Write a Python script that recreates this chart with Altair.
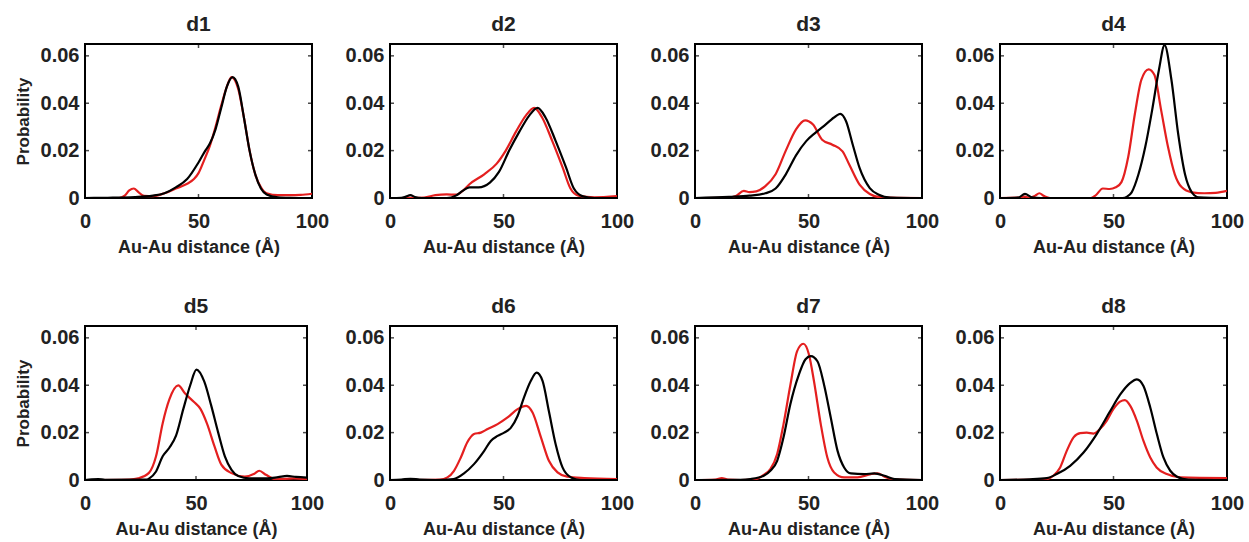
import altair as alt
import pandas as pd

RED = "#e41f1f"
BLACK = "#000000"
TEXT = "#222222"
FONT = "Liberation Sans"

X_TICKS = [0, 50, 100]
Y_TICKS = [0, 0.02, 0.04, 0.06]
X_MAX = 100
Y_MAX = 0.065
X_TITLE = "Au-Au distance (Å)"
Y_TITLE = "Probability"
PANELS = ["d1", "d2", "d3", "d4", "d5", "d6", "d7", "d8"]

d1_black = [(0, 0), (10, 0.0001), (20, 0.0003), (25, 0.0006), (30, 0.001), (35, 0.002), (40, 0.0045), (45, 0.008), (50, 0.015), (53, 0.02), (55, 0.023), (57.5, 0.029), (60, 0.038), (62.5, 0.047), (65, 0.051), (67.5, 0.047), (70, 0.034), (72.5, 0.02), (75, 0.01), (77.5, 0.004), (80, 0.0015), (85, 0.0003), (90, 0.0001), (100, 0)]
d1_red = [(0, 0), (15, 0), (17.5, 0.001), (19.5, 0.0032), (21.5, 0.004), (23.5, 0.0025), (26, 0.0009), (30, 0.0008), (35, 0.002), (40, 0.004), (45, 0.006), (48, 0.008), (50, 0.0105), (52.5, 0.016), (55, 0.022), (57.5, 0.030), (60, 0.039), (62.5, 0.047), (64.5, 0.051), (67.5, 0.046), (70, 0.034), (72.5, 0.02), (75, 0.01), (77.5, 0.0045), (80, 0.002), (85, 0.0012), (90, 0.0012), (95, 0.0013), (100, 0.0018)]

d2_black = [(0, 0), (5, 0.0001), (7, 0.0006), (9, 0.0012), (11, 0.0004), (14, 0), (25, 0), (29, 0.001), (32, 0.003), (35, 0.0045), (39, 0.0045), (44, 0.0065), (48, 0.011), (52.5, 0.02), (57, 0.028), (61.5, 0.035), (65, 0.038), (68.5, 0.034), (73, 0.024), (77.5, 0.013), (81, 0.004), (85, 0.0007), (90, 0), (100, 0)]
d2_red = [(0, 0), (15, 0.0002), (20, 0.0012), (25, 0.0015), (29, 0.0014), (32, 0.003), (35, 0.0058), (41.5, 0.01), (47, 0.0145), (51, 0.02), (55.5, 0.028), (60, 0.035), (63.5, 0.038), (67, 0.034), (71.5, 0.024), (76, 0.013), (79.5, 0.004), (83, 0.001), (90, 0.0003), (100, 0.0008)]

d3_black = [(0, 0), (15, 0.0005), (24, 0.001), (31, 0.002), (35.5, 0.004), (40, 0.01), (44.5, 0.018), (49, 0.024), (53, 0.0275), (57.5, 0.031), (62, 0.0345), (64, 0.0355), (66.5, 0.0325), (69.5, 0.0225), (72.5, 0.0127), (77, 0.0042), (81, 0.0014), (86, 0.0002), (100, 0)]
d3_red = [(0, 0), (15, 0.0002), (18, 0.0008), (21.5, 0.003), (24, 0.0025), (27, 0.0028), (31, 0.005), (35.5, 0.01), (40, 0.02), (44.5, 0.029), (48.5, 0.0328), (52, 0.031), (56, 0.0246), (60.5, 0.0225), (65, 0.0197), (68, 0.014), (72.5, 0.0056), (77, 0.0017), (82, 0.0003), (100, 0)]

d4_black = [(0, 0), (8, 0.0002), (11, 0.0017), (14, 0.0003), (18, 0), (54, 0), (56, 0.0006), (58, 0.0024), (61, 0.01), (64, 0.0216), (67, 0.037), (70, 0.054), (72.5, 0.0645), (75.5, 0.05), (78.5, 0.027), (81.5, 0.01), (84.5, 0.0024), (87.5, 0.0003), (100, 0)]
d4_red = [(0, 0), (9, 0.0002), (11, 0.0006), (13, 0.0001), (15.5, 0.001), (17.3, 0.002), (19.5, 0.0008), (22, 0), (40, 0), (42, 0.001), (45.3, 0.004), (48.3, 0.0038), (51, 0.0045), (53.5, 0.0067), (56.5, 0.0174), (59.5, 0.036), (62.3, 0.05), (65.5, 0.0543), (68, 0.052), (71, 0.037), (74, 0.0216), (77, 0.01), (80, 0.0046), (84.5, 0.0024), (90, 0.002), (95, 0.0022), (100, 0.003)]

d5_black = [(0, 0), (3, 0.0003), (6, 0.0004), (9, 0.0001), (28, 0.0002), (29, 0.0007), (32, 0.0036), (35, 0.01), (38, 0.0136), (41, 0.0187), (44.3, 0.03), (47.4, 0.04), (50.2, 0.0466), (53.7, 0.0416), (56.8, 0.0316), (60, 0.02), (63, 0.01), (66, 0.0043), (69, 0.0017), (74, 0.0007), (82, 0.0007), (87, 0.0012), (91, 0.0017), (95, 0.0013), (100, 0.001)]
d5_red = [(0, 0), (20, 0.0002), (24, 0.0007), (28.8, 0.003), (32, 0.01), (35, 0.024), (38, 0.034), (42, 0.0399), (45, 0.0366), (49, 0.033), (52, 0.030), (55, 0.0237), (58.3, 0.0143), (61.4, 0.0065), (66, 0.0029), (72, 0.0014), (76, 0.0025), (78.5, 0.0039), (81.5, 0.0022), (86, 0.0003), (94, 0.0007), (100, 0.0003)]

d6_black = [(0, 0), (5, 0.0002), (9, 0.0005), (13, 0.0002), (20, 0), (28, 0.0004), (32.6, 0.0028), (37, 0.0067), (41.5, 0.0123), (44.4, 0.0165), (47.4, 0.0186), (50.3, 0.02), (53.2, 0.022), (56.2, 0.027), (59, 0.0348), (62, 0.0418), (64.6, 0.0453), (67.2, 0.0418), (70, 0.029), (73, 0.015), (76, 0.0053), (79.7, 0.0011), (84, 0), (100, 0)]
d6_red = [(0, 0), (22, 0.0002), (25.3, 0.0011), (28.2, 0.0039), (31.2, 0.0095), (34, 0.0158), (37, 0.0194), (40, 0.02), (43, 0.0215), (47.4, 0.0236), (51.8, 0.0264), (56.2, 0.0299), (60, 0.0313), (62.8, 0.0285), (66.5, 0.018), (70, 0.0081), (73.8, 0.0032), (78, 0.0014), (85.6, 0.0008), (100, 0.0004)]

d7_black = [(0, 0), (20, 0.0001), (24.4, 0.0004), (30.3, 0.0018), (33.2, 0.0039), (36.2, 0.0081), (39, 0.018), (42, 0.032), (45.8, 0.0446), (48.7, 0.051), (51, 0.0523), (54, 0.050), (56.9, 0.040), (59.8, 0.0264), (62.8, 0.0123), (65.7, 0.0053), (68.7, 0.0028), (74.6, 0.0025), (79, 0.0028), (83.5, 0.0018), (88, 0.0004), (100, 0)]
d7_red = [(0, 0), (9, 0.0002), (11.8, 0.0008), (14.5, 0.0002), (20, 0), (27, 0.0004), (30.3, 0.0022), (33.2, 0.0046), (36.2, 0.011), (39, 0.0236), (42, 0.040), (45, 0.0544), (47.7, 0.0575), (50.2, 0.053), (52.4, 0.0418), (55.4, 0.0236), (58.3, 0.0095), (61.3, 0.0032), (65.7, 0.0011), (71.6, 0.0011), (77.5, 0.0025), (80.5, 0.0028), (83.5, 0.0014), (88, 0.0003), (100, 0)]

d8_black = [(0, 0), (13, 0.0003), (20.6, 0.0008), (25, 0.0025), (30.9, 0.006), (36.8, 0.0116), (42.6, 0.0194), (48.5, 0.029), (52.9, 0.036), (57.4, 0.041), (60.3, 0.0425), (63.2, 0.0397), (66.2, 0.0306), (69.1, 0.0194), (72, 0.0095), (75, 0.0039), (78, 0.0014), (83, 0.0002), (100, 0)]
d8_red = [(0, 0), (20, 0.0003), (23.5, 0.0018), (26.5, 0.0053), (29.4, 0.0123), (32.4, 0.018), (35.3, 0.0198), (38.2, 0.02), (41.2, 0.0196), (44, 0.0215), (47, 0.025), (50, 0.030), (52.9, 0.0331), (55, 0.0337), (57.4, 0.0313), (60.3, 0.025), (63.2, 0.0165), (66.2, 0.0095), (69, 0.0053), (73.5, 0.0025), (79.4, 0.0011), (100, 0.0008)]

SERIES = {
    "d1": (d1_red, d1_black), "d2": (d2_red, d2_black),
    "d3": (d3_red, d3_black), "d4": (d4_red, d4_black),
    "d5": (d5_red, d5_black), "d6": (d6_red, d6_black),
    "d7": (d7_red, d7_black), "d8": (d8_red, d8_black),
}


def to_df(points):
    return pd.DataFrame(points, columns=["x", "y"])


def x_enc():
    return alt.X("x:Q", scale=alt.Scale(domain=[0, X_MAX], nice=False, zero=False),
                 axis=alt.Axis(values=X_TICKS, format="d", title=X_TITLE))


def y_enc(show_title):
    ax = alt.Axis(values=Y_TICKS, title=Y_TITLE if show_title else None,
                  labelExpr="datum.value == 0 ? '0' : format(datum.value, '.2f')")
    return alt.Y("y:Q", scale=alt.Scale(domain=[0, Y_MAX], nice=False), axis=ax)


ytick_df = pd.DataFrame([(xv, yv) for xv in [0, X_MAX] for yv in Y_TICKS[1:]], columns=["x", "y"])
xtick_df = pd.DataFrame([(xv, yv) for xv in X_TICKS[1:-1] for yv in [0, Y_MAX]], columns=["x", "y"])


def panel(name, width, height, show_ytitle):
    red, black = SERIES[name]
    yy = y_enc(show_ytitle)
    red_line = alt.Chart(to_df(red)).mark_line(color=RED, strokeWidth=2.2, interpolate="monotone", clip=True).encode(x=x_enc(), y=yy)
    black_line = alt.Chart(to_df(black)).mark_line(color=BLACK, strokeWidth=2.2, interpolate="monotone", clip=True).encode(x=x_enc(), y=yy)
    yt = alt.Chart(ytick_df).mark_tick(orient="horizontal", size=8, thickness=1.5, color=BLACK, clip=True).encode(x=x_enc(), y=yy)
    xt = alt.Chart(xtick_df).mark_tick(orient="vertical", size=8, thickness=1.5, color=BLACK, clip=True).encode(x=x_enc(), y=yy)
    return alt.layer(red_line, black_line, yt, xt).properties(width=width, height=height, title=name)


panels = []
for i, name in enumerate(PANELS):
    w = 222 if name == "d5" else 227
    panels.append(panel(name, w, 154, i % 4 == 0))

chart = alt.concat(*panels, columns=4, spacing={"row": 128, "column": 78}, bounds="flush").properties(
    padding={"left": 13, "top": 13, "right": 0, "bottom": 2}
).configure_view(
    stroke=BLACK, strokeWidth=2
).configure_axis(
    labelFont=FONT, labelFontSize=20, labelFontWeight="bold", labelColor=TEXT,
    titleFont=FONT, titleFontSize=18, titleFontWeight="bold", titleColor=TEXT,
    domain=False, ticks=False, grid=False, labelFlush=False, labelOverlap=False
).configure_axisX(
    labelPadding=13, titlePadding=7
).configure_axisY(
    labelPadding=6, titlePadding=8, titleFontSize=17
).configure_title(
    font=FONT, fontSize=21, fontWeight="bold", color=TEXT, anchor="middle", offset=9
)

chart.save("out.html", embed_options={"renderer": "svg", "actions": False})
